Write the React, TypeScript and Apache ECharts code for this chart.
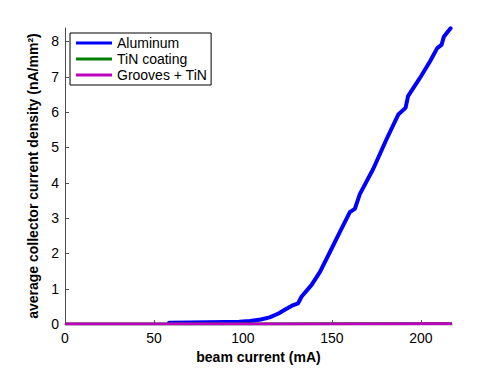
import React, { useEffect, useRef } from "react";
import * as echarts from "echarts";

const xTicks = [0, 50, 100, 150, 200];
const yTicks = [0, 1, 2, 3, 4, 5, 6, 7, 8];

const aluminumX = [58.5, 70, 80, 90, 98, 104, 110, 115, 120, 124, 128.3, 131, 133, 138.6, 143.3, 148.9, 154.5, 160.1, 162.9, 165.7, 173.2, 180.7, 187.3, 191.4, 192.8, 199.4, 205.1, 209.2, 211.6, 212.9, 216.7];
const aluminumY = [0.04, 0.045, 0.05, 0.06, 0.07, 0.09, 0.13, 0.19, 0.3, 0.42, 0.54, 0.59, 0.78, 1.11, 1.48, 2.04, 2.61, 3.17, 3.26, 3.68, 4.39, 5.23, 5.93, 6.12, 6.45, 6.96, 7.43, 7.81, 7.9, 8.13, 8.37];

const tinX = [0, 50, 100, 150, 200, 217.5];
const tinY = [0.005, 0.005, 0.006, 0.007, 0.008, 0.008];

const groovesX = [0, 50, 100, 150, 200, 217.5];
const groovesY = [0.004, 0.004, 0.005, 0.006, 0.007, 0.007];

const zip = (xs: number[], ys: number[]) => xs.map((x, i) => [x, ys[i]]);

export default function App() {
  const ref = useRef<HTMLDivElement>(null);
  useEffect(() => {
    if (!ref.current) return;
    const chart = echarts.init(ref.current, null, { renderer: "svg" });
    const font = "Liberation Sans";
    const axisColor = "#4d4d4d";
    chart.setOption({
      animation: false,
      backgroundColor: "#fff",
      grid: { left: 65, right: 46, top: 28, bottom: 43 },
      xAxis: {
        type: "value",
        min: 0,
        max: 217.5,
        interval: 50,
        name: "beam current (mA)",
        nameLocation: "middle",
        nameGap: 24,
        nameTextStyle: { fontFamily: font, fontSize: 14, fontWeight: "bold", color: "#000" },
        axisLine: { show: true, lineStyle: { color: axisColor, width: 1 } },
        axisTick: { show: true, inside: true, length: 4, customValues: xTicks, lineStyle: { color: axisColor } },
        axisLabel: { customValues: xTicks, fontFamily: font, fontSize: 14, color: "#000", margin: 7 },
        splitLine: { show: false },
      },
      yAxis: {
        type: "value",
        min: 0,
        max: 8.38,
        interval: 1,
        name: "average collector current density (nA/mm²)",
        nameLocation: "middle",
        nameGap: 18,
        nameTextStyle: { fontFamily: font, fontSize: 14, fontWeight: "bold", color: "#000" },
        axisLine: { show: true, lineStyle: { color: axisColor, width: 1 } },
        axisTick: { show: true, inside: true, length: 4, customValues: yTicks, lineStyle: { color: axisColor } },
        axisLabel: { customValues: yTicks, fontFamily: font, fontSize: 14, color: "#000", margin: 6 },
        splitLine: { show: false },
      },
      legend: {
        orient: "vertical",
        left: 70,
        top: 33,
        icon: "rect",
        itemWidth: 36,
        itemHeight: 3,
        itemGap: 2,
        padding: [3, 4, 3, 6],
        borderColor: "#000",
        borderWidth: 1,
        backgroundColor: "#fff",
        textStyle: { fontFamily: font, fontSize: 14, color: "#000" },
        data: ["Aluminum", "TiN coating", "Grooves + TiN"],
      },
      series: [
        {
          name: "Aluminum",
          type: "line",
          data: zip(aluminumX, aluminumY),
          showSymbol: false,
          symbol: "none",
          itemStyle: { color: "#0000ff" },
          lineStyle: { color: "#0000ff", width: 4, join: "round", cap: "round" },
          z: 3,
        },
        {
          name: "TiN coating",
          type: "line",
          data: zip(tinX, tinY),
          showSymbol: false,
          symbol: "none",
          itemStyle: { color: "#008000" },
          lineStyle: { color: "#008000", width: 3 },
          z: 4,
        },
        {
          name: "Grooves + TiN",
          type: "line",
          data: zip(groovesX, groovesY),
          showSymbol: false,
          symbol: "none",
          itemStyle: { color: "#bf00bf" },
          lineStyle: { color: "#bf00bf", width: 3 },
          z: 5,
        },
      ],
    });
    return () => chart.dispose();
  }, []);
  return <div ref={ref} style={{ width: 498, height: 369, position: "absolute", left: 0, top: 0 }} />;
}
